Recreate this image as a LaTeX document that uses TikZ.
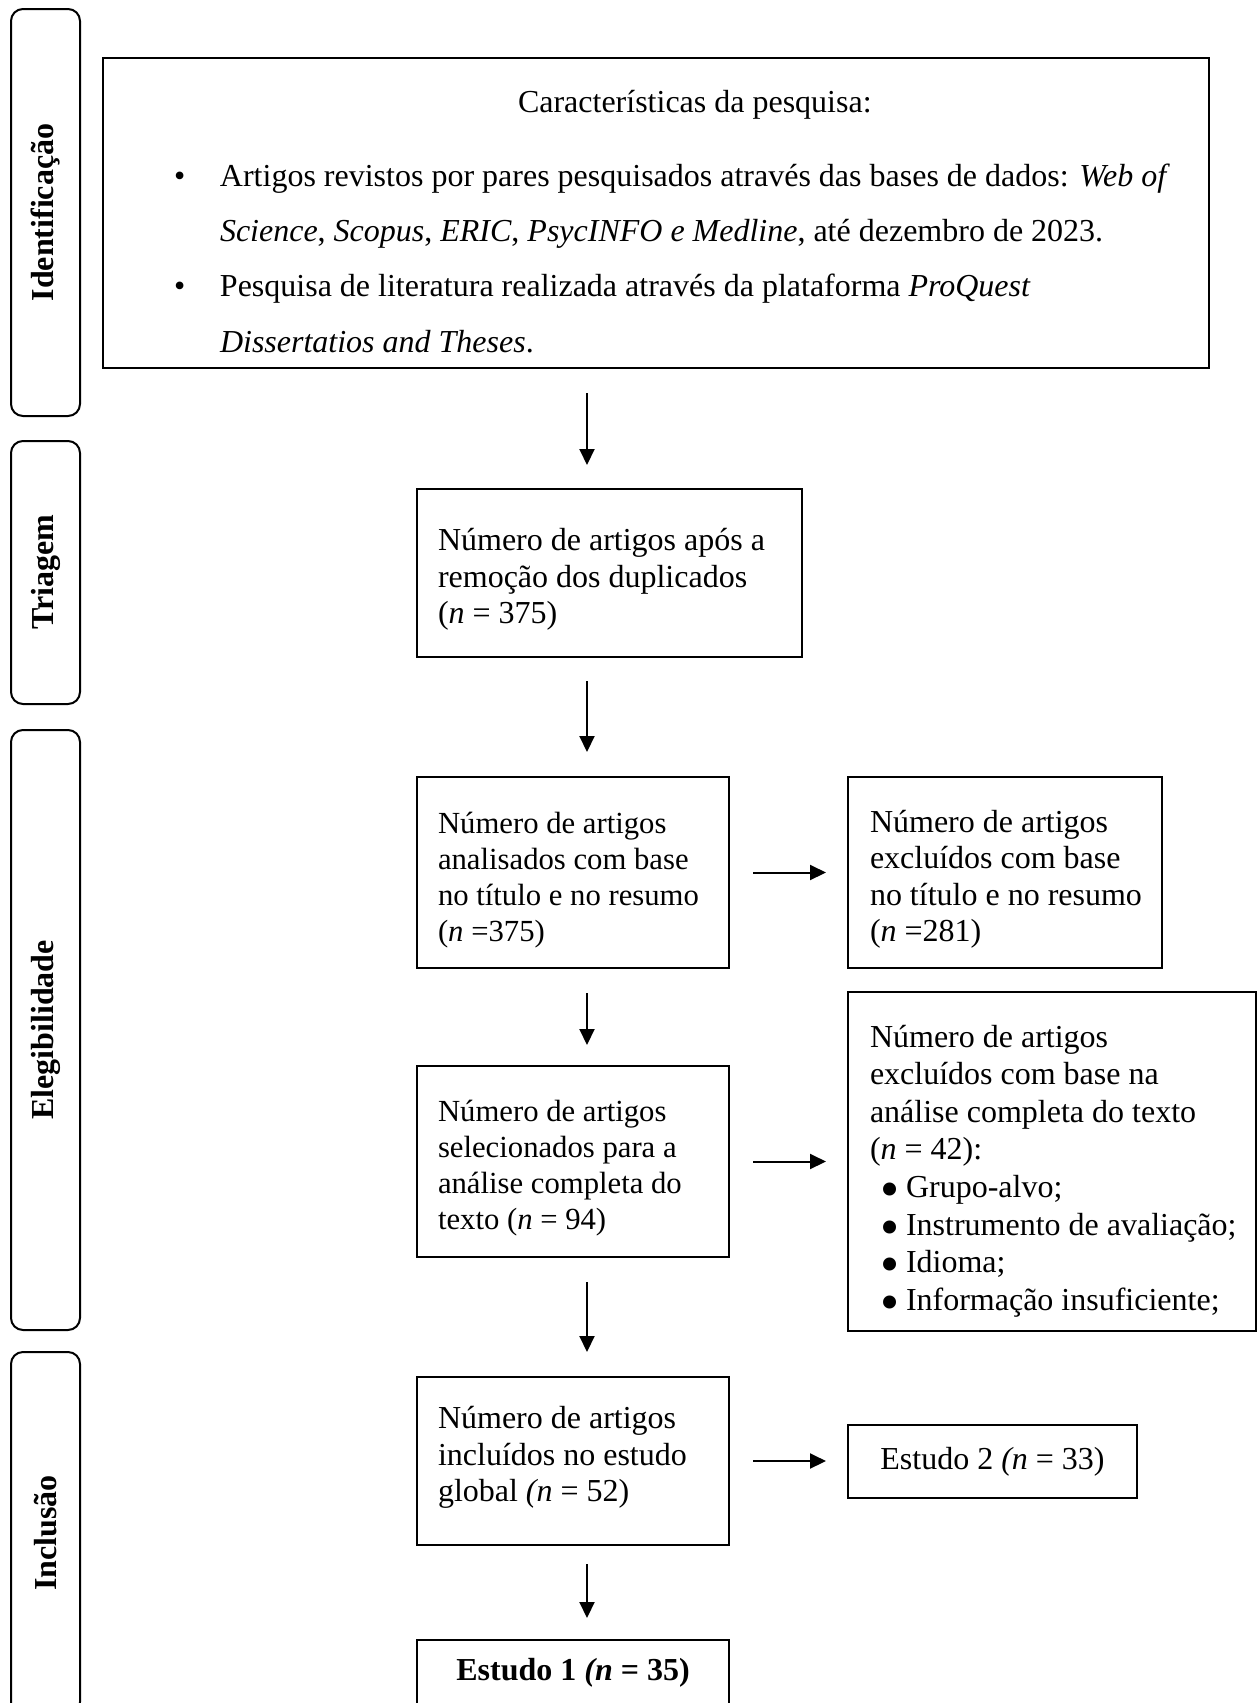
\documentclass[tikz,border=0pt]{standalone}
\usepackage{fontspec}
\setmainfont{Liberation Serif}
\usepackage{graphicx}
\usetikzlibrary{arrows.meta}
\newcommand\mybul{\hspace*{10pt}\makebox[26pt][l]{\smash{\raisebox{-10pt}{\scalebox{1.7}{\textbullet}}}}}
\newcommand\tp[1]{\rule{0pt}{#1}}
\begin{document}
\begin{tikzpicture}[x=1pt, y=-1pt,
  every node/.style={inner sep=0pt, outer sep=0pt},
  tab/.style={draw, line width=2pt, rounded corners=12pt, rotate=90, minimum height=69pt,
    font=\fontsize{32}{36}\selectfont\bfseries},
  box/.style={draw, line width=2pt, anchor=north west, align=flush left},
  fA/.style={font=\fontsize{32}{36.5}\selectfont},
  fB/.style={font=\fontsize{30.7}{36}\selectfont},
  arr/.style={line width=2pt, -{Triangle[length=16pt,width=15pt]}},
]
\useasboundingbox (0,0) rectangle (1258,1703);
\fill[white] (0,0) rectangle (1258,1703);
\begin{scope}
\clip (0,0) rectangle (1258,1703);

% side tabs
\node[tab, minimum width=407pt] (tabid) at (45.5,212.5) {Identificação};
\node[tab, minimum width=263pt] (tabtr) at (45.5,572.5) {Triagem};
\node[tab, minimum width=600pt] (tabel) at (45.5,1030) {Elegibilidade};
\node[tab, minimum width=362pt] (tabin) at (45.5,1533) {Inclusão};

% identification box
\node[box, minimum width=1106pt, minimum height=310pt, text width=1106pt,
  font=\fontsize{32}{55.3}\selectfont] (idbox) at (103,58) {%
\hspace*{415pt}\tp{39pt}Características da pesquisa:\\[18.7pt]
\hspace*{71pt}\makebox[46pt][l]{\textbullet}Artigos revistos por pares pesquisados através das bases de dados: \textit{Web of}\\
\hspace*{117pt}\textit{Science}, \textit{Scopus}, \textit{ERIC}, \textit{PsycINFO e Medline}, até dezembro de 2023.\\
\hspace*{71pt}\makebox[46pt][l]{\textbullet}Pesquisa de literatura realizada através da plataforma \textit{ProQuest}\\
\hspace*{117pt}\textit{Dissertatios and Theses}.\par};

% flow boxes
\node[box, fA, minimum width=385pt, minimum height=168pt, text width=385pt] (tri) at (417,489)
  {\leftskip=21pt \tp{35pt}Número de artigos após a\\remoção dos duplicados\\(\textit{n} = 375)\par};
\node[box, fB, minimum width=312pt, minimum height=191pt, text width=312pt] (ana) at (417,777)
  {\leftskip=21pt \tp{37pt}Número de artigos\\analisados com base\\no título e no resumo\\(\textit{n} =375)\par};
\node[box, fA, minimum width=314pt, minimum height=191pt, text width=314pt] (exa) at (848,777)
  {\leftskip=22pt \tp{36pt}Número de artigos\\excluídos com base\\no título e no resumo\\(\textit{n} =281)\par};
\node[box, fB, minimum width=312pt, minimum height=191pt, text width=312pt] (sel) at (417,1066)
  {\leftskip=21pt \tp{34pt}Número de artigos\\selecionados para a\\análise completa do\\texto (\textit{n} = 94)\par};
\node[box, font=\fontsize{32}{37.6}\selectfont, minimum width=408pt, minimum height=339pt, text width=408pt] (exb) at (848,992)
  {\leftskip=22pt \tp{41pt}Número de artigos\\excluídos com base na\\análise completa do texto\\(\textit{n} = 42):\\
   \mybul Grupo-alvo;\\\mybul Instrumento de avaliação;\\\mybul Idioma;\\\mybul Informação insuficiente;\par};
\node[box, fA, minimum width=312pt, minimum height=168pt, text width=312pt] (inc) at (417,1377)
  {\leftskip=21pt Número de artigos\\incluídos no estudo\\global \textit{(n} = 52)\rule[-14pt]{0pt}{0pt}\par};
\node[box, fA, align=center, minimum width=289pt, minimum height=73pt] (es2) at (848,1425)
  {Estudo 2 \textit{(n} = 33)};
\node[box, fA, align=center, minimum width=312pt, minimum height=66pt] (es1) at (417,1640)
  {\textbf{Estudo 1 \textit{(n} = 35)}};

% connectors
\coordinate (ax) at (587,0);
\draw[arr, shorten <=25pt, shorten >=24pt] (idbox.south -| ax) -- (tri.north -| ax);
\draw[arr, shorten <=24pt, shorten >=25pt] (tri.south -| ax) -- (ana.north -| ax);
\draw[arr, shorten <=25pt, shorten >=21pt] (ana.south -| ax) -- (sel.north -| ax);
\draw[arr, shorten <=25pt, shorten >=25pt] (sel.south -| ax) -- (inc.north -| ax);
\draw[arr, shorten <=19pt, shorten >=22pt] (inc.south -| ax) -- (es1.north -| ax);
\draw[arr, shorten <=24pt, shorten >=22pt] (ana.east) -- (exa.west |- ana.east);
\draw[arr, shorten <=24pt, shorten >=22pt] (sel.east) -- (exb.west |- sel.east);
\draw[arr, shorten <=24pt, shorten >=22pt] (inc.east) -- (es2.west |- inc.east);
\end{scope}
\end{tikzpicture}
\end{document}
